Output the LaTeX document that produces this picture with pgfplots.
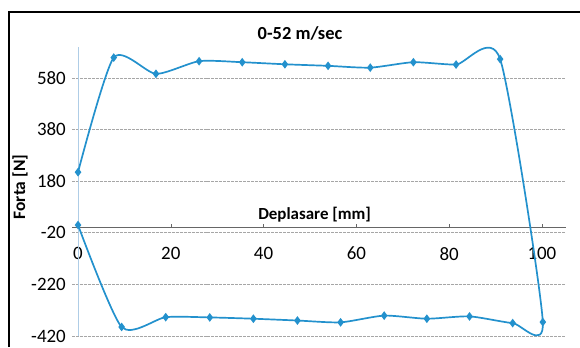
\documentclass[border=0pt]{standalone}
\usepackage{pgfplots}
\pgfplotsset{compat=1.18}
\usepackage{fontspec}
\setmainfont{Carlito}
\definecolor{serblue}{RGB}{35,145,205}
\definecolor{axblue}{RGB}{175,205,230}
\begin{document}
\begin{tikzpicture}[x=1bp,y=1bp]
\useasboundingbox (0,0) rectangle (580,347);
\fill[white] (0,0) rectangle (580,347);
\draw[black,line width=2bp] (9,0) -- (9,335) -- (580,335);
\node[font=\fontsize{18.5}{20}\selectfont\bfseries] at (300,314) {0-52 m/sec};
\node[font=\fontsize{17.5}{19}\selectfont\bfseries,rotate=90] at (20,160) {Forta [N]};
\begin{axis}[
  at={(72bp,11bp)}, anchor=south west,
  scale only axis, width=494bp, height=289bp,
  xmin=-1.3, xmax=105.2, ymin=-420, ymax=700,
  axis x line*=middle, axis y line*=left,
  y axis line style={draw=none},
  x axis line style={draw=gray!80!black, line width=0.7pt, -},
  xtick={0,20,40,60,80,100},
  ytick={-420,-220,-20,180,380,580},
  ymajorgrids,
  major grid style={gray!70, line width=0.6pt, dash pattern=on 3pt off 1pt},
  major tick length=4bp,
  xtick style={draw=gray!80!black},
  ytick style={draw=none},
  tick label style={font=\fontsize{19}{21}\selectfont},
  /pgf/number format/assume math mode=true,
  xticklabel style={anchor=center, yshift=-26bp},
  yticklabel style={anchor=east, inner sep=0pt, xshift=-6bp},
  clip=false,
]
\draw[axblue, line width=0.8pt] (axis cs:0,-420) -- (axis cs:0,700);
\addplot[serblue, line width=1.7pt, smooth, tension=0.4, mark=diamond*, mark size=3pt, mark options={fill=serblue}]
coordinates {
(0,215) (7.7,659) (16.8,596) (26.1,645) (35.4,641) (44.6,633) (53.9,627)
(63,620) (72.3,641) (81.5,632) (91,653) (100.2,-366) (93.7,-370) (84.4,-344)
(75.2,-353) (66,-341) (56.6,-367) (47.3,-360) (37.8,-353) (28.4,-348)
(18.9,-347) (9.4,-385) (0,10)
};
\node[font=\fontsize{17}{19}\selectfont\bfseries] at (axis cs:51,52) {Deplasare [mm]};
\end{axis}
\end{tikzpicture}
\end{document}
